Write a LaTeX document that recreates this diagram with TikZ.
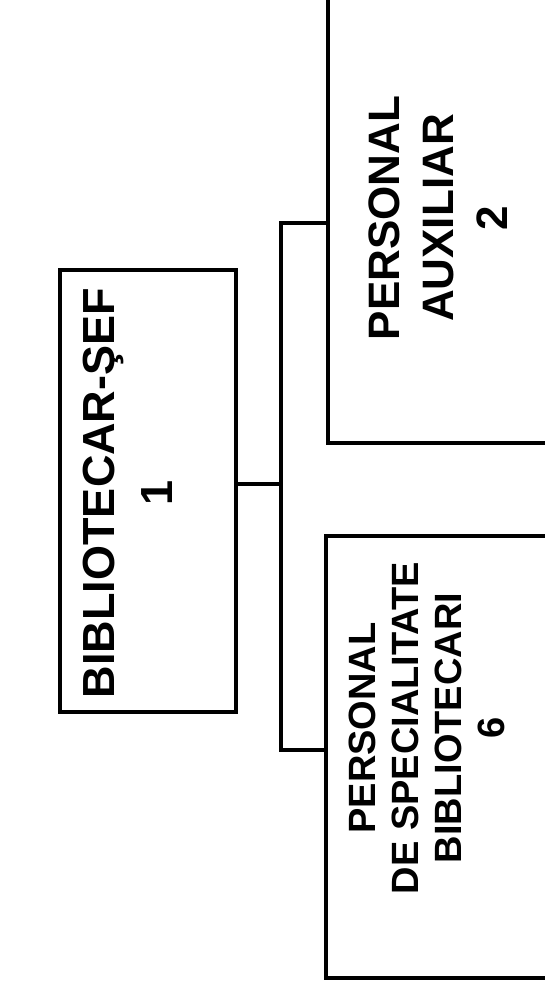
\documentclass[tikz,border=0pt]{standalone}
\usepackage{fontspec}
\setmainfont{Liberation Sans}
\begin{document}
\begin{tikzpicture}[x=1pt,y=1pt,
  box/.style={draw, line width=4.5pt, rectangle, inner sep=0pt},
  lblone/.style={rotate=90, align=center, font=\bfseries\fontsize{45}{58}\selectfont},
  lbltwo/.style={rotate=90, align=center, font=\bfseries\fontsize{44}{54}\selectfont},
  lblthree/.style={rotate=90, align=center, font=\bfseries\fontsize{38}{43}\selectfont},
  conn/.style={line width=4.5pt}]
\useasboundingbox (0,0) rectangle (545,-991);
\clip (0,0) rectangle (545,-991);
\node[box, minimum width=176pt, minimum height=442pt] (b1) at (148,-491) {};
\node[box, minimum width=292pt, minimum height=473pt] (b2) at (474,-206.5) {};
\node[box, minimum width=294pt, minimum height=442pt] (b3) at (473,-757) {};
\node[lblone] (t1) at (128,-493) {BIBLIOTECAR-ŞEF\\1};
\node[lbltwo] (t2) at (438,-218) {PERSONAL\\AUXILIAR\\2};
\node[lblthree] (t3) at (427,-728) {PERSONAL\\DE SPECIALITATE\\BIBLIOTECARI\\6};
\coordinate (j) at (281,-484);
\coordinate (jt) at (281,-223);
\coordinate (jb) at (281,-750);
\draw[conn] (b1.east |- j) -- (j);
\draw[conn] (b2.west |- jt) -- (jt) -- (jb) -- (b3.west |- jb);
\end{tikzpicture}
\end{document}
